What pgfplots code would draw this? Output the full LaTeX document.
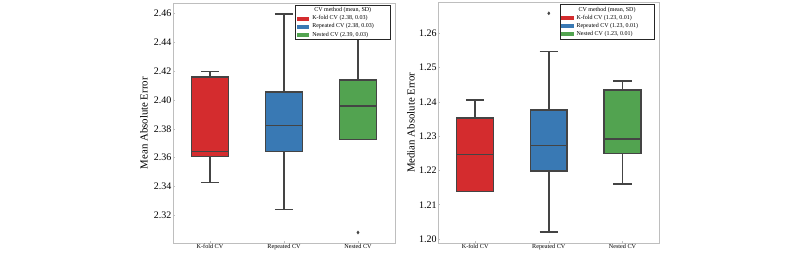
\documentclass[border=0pt]{standalone}
\usepackage{pgfplots}
\pgfplotsset{compat=1.18}
\usepackage{fontspec}
\setmainfont{Liberation Serif}
\definecolor{kred}{RGB}{212,44,46}
\definecolor{kblue}{RGB}{57,121,180}
\definecolor{kgreen}{RGB}{82,163,80}
\definecolor{boxgray}{RGB}{68,68,68}
\definecolor{framegray}{RGB}{190,190,190}
\pgfplotsset{
  mybox/.style={
    scale only axis, anchor=south west,
    xmin=-0.5, xmax=2.5,
    xtick={0,1,2},
    xticklabels={K-fold CV, Repeated CV, Nested CV},
    x tick label style={font=\fontsize{6.2}{7}\selectfont, inner sep=1pt},
    y tick label style={font=\fontsize{10}{11}\selectfont, inner sep=1.5pt},
    /pgf/number format/assume math mode=true,
    yticklabel style={/pgf/number format/fixed, /pgf/number format/fixed zerofill, /pgf/number format/precision=2},
    tick pos=left,
    major tick length=2pt,
    tick style={framegray, line width=0.6pt},
    axis line style={framegray, line width=0.8pt},
    label style={font=\fontsize{10.8}{12}\selectfont},
    legend cell align=left,
    legend style={at={(1,1)}, anchor=north east, xshift=-4.3pt, yshift=-2pt,
      font=\fontsize{6}{7}\selectfont, draw=black!85, line width=0.9pt,
      inner xsep=1pt, inner ysep=1.2pt, row sep=0.4pt,
      nodes={inner sep=1pt}},
    legend image code/.code={\fill[#1, draw=none] (0pt,-2pt) rectangle (12.5pt,2pt); \path[draw=none] (14.5pt,0pt);},
  },
  ln/.style={draw=boxgray, line width=1.5pt, forget plot, mark=none},
  bx/.style={draw=boxgray, line width=1.5pt, forget plot, mark=none, fill=#1},
  fl/.style={forget plot, only marks, mark=diamond*, mark size=1.6pt,
    mark options={fill=boxgray, draw=boxgray, line width=0.3pt}},
}
\begin{document}
\begin{tikzpicture}
\useasboundingbox (0,0) rectangle (800pt,254pt);
% ---------- Left: Mean Absolute Error
\begin{axis}[mybox, at={(173pt,10.7pt)}, width=222pt, height=240.3pt,
  ymin=2.3006, ymax=2.4674,
  ytick={2.32,2.34,2.36,2.38,2.40,2.42,2.44,2.46},
  ylabel={Mean Absolute Error},
  ylabel style={at={(axis description cs:-0.131,0.5)}, anchor=center},
]
\addlegendimage{legend image code/.code={\path[draw=none] (0pt,0pt) rectangle (14.5pt,0pt);}}
\addlegendentry{\makebox[76pt][l]{\hspace{2pt}CV method (mean, SD)}}
\addlegendimage{fill=kred}
\addlegendentry{K-fold CV (2.38, 0.03)}
\addlegendimage{fill=kblue}
\addlegendentry{Repeated CV (2.38, 0.03)}
\addlegendimage{fill=kgreen}
\addlegendentry{Nested CV (2.39, 0.03)}
% K-fold CV: lw 2.3429, q1 2.3610, med 2.3644, q3 2.4162, uw 2.4197
\addplot[ln] coordinates {(0,2.3610) (0,2.3429)};
\addplot[ln] coordinates {(-0.125,2.3429) (0.125,2.3429)};
\addplot[ln] coordinates {(0,2.4162) (0,2.4197)};
\addplot[ln] coordinates {(-0.125,2.4197) (0.125,2.4197)};
\addplot[bx=kred] coordinates {(-0.25,2.3610) (0.25,2.3610) (0.25,2.4162) (-0.25,2.4162)} -- cycle;
\addplot[ln] coordinates {(-0.25,2.3644) (0.25,2.3644)};
% Repeated CV: lw 2.3242, q1 2.3644, med 2.3822, q3 2.4056, uw 2.4597
\addplot[ln] coordinates {(1,2.3644) (1,2.3242)};
\addplot[ln] coordinates {(0.875,2.3242) (1.125,2.3242)};
\addplot[ln] coordinates {(1,2.4056) (1,2.4597)};
\addplot[ln] coordinates {(0.875,2.4597) (1.125,2.4597)};
\addplot[bx=kblue] coordinates {(0.75,2.3644) (1.25,2.3644) (1.25,2.4056) (0.75,2.4056)} -- cycle;
\addplot[ln] coordinates {(0.75,2.3822) (1.25,2.3822)};
% Nested CV: lw 2.3726, q1 2.3726, med 2.3958, q3 2.4138, uw 2.4520, outlier 2.3081
\addplot[ln] coordinates {(2,2.4138) (2,2.4520)};
\addplot[ln] coordinates {(1.875,2.4520) (2.125,2.4520)};
\addplot[bx=kgreen] coordinates {(1.75,2.3726) (2.25,2.3726) (2.25,2.4138) (1.75,2.4138)} -- cycle;
\addplot[ln] coordinates {(1.75,2.3958) (2.25,2.3958)};
\addplot[fl] coordinates {(2,2.3081)};
\end{axis}
% ---------- Right: Median Absolute Error
\begin{axis}[mybox, at={(438.3pt,10.8pt)}, width=221pt, height=240.9pt,
  ymin=1.1988, ymax=1.2690,
  ytick={1.20,1.21,1.22,1.23,1.24,1.25,1.26},
  ylabel={Median Absolute Error},
  ylabel style={at={(axis description cs:-0.124,0.5)}, anchor=center},
]
\addlegendimage{legend image code/.code={\path[draw=none] (0pt,0pt) rectangle (14.5pt,0pt);}}
\addlegendentry{\makebox[76pt][l]{\hspace{2pt}CV method (mean, SD)}}
\addlegendimage{fill=kred}
\addlegendentry{K-fold CV (1.23, 0.01)}
\addlegendimage{fill=kblue}
\addlegendentry{Repeated CV (1.23, 0.01)}
\addlegendimage{fill=kgreen}
\addlegendentry{Nested CV (1.23, 0.01)}
% K-fold CV: lw 1.2138, q1 1.2138, med 1.2246, q3 1.2353, uw 1.2406
\addplot[ln] coordinates {(0,1.2353) (0,1.2406)};
\addplot[ln] coordinates {(-0.125,1.2406) (0.125,1.2406)};
\addplot[bx=kred] coordinates {(-0.25,1.2138) (0.25,1.2138) (0.25,1.2353) (-0.25,1.2353)} -- cycle;
\addplot[ln] coordinates {(-0.25,1.2246) (0.25,1.2246)};
% Repeated CV: lw 1.2020, q1 1.2199, med 1.2272, q3 1.2376, uw 1.2546, outlier 1.2658
\addplot[ln] coordinates {(1,1.2199) (1,1.2020)};
\addplot[ln] coordinates {(0.875,1.2020) (1.125,1.2020)};
\addplot[ln] coordinates {(1,1.2376) (1,1.2546)};
\addplot[ln] coordinates {(0.875,1.2546) (1.125,1.2546)};
\addplot[bx=kblue] coordinates {(0.75,1.2199) (1.25,1.2199) (1.25,1.2376) (0.75,1.2376)} -- cycle;
\addplot[ln] coordinates {(0.75,1.2272) (1.25,1.2272)};
\addplot[fl] coordinates {(1,1.2658)};
% Nested CV: lw 1.2160, q1 1.2250, med 1.2291, q3 1.2435, uw 1.2460
\addplot[ln] coordinates {(2,1.2250) (2,1.2160)};
\addplot[ln] coordinates {(1.875,1.2160) (2.125,1.2160)};
\addplot[ln] coordinates {(2,1.2435) (2,1.2460)};
\addplot[ln] coordinates {(1.875,1.2460) (2.125,1.2460)};
\addplot[bx=kgreen] coordinates {(1.75,1.2250) (2.25,1.2250) (2.25,1.2435) (1.75,1.2435)} -- cycle;
\addplot[ln] coordinates {(1.75,1.2291) (2.25,1.2291)};
\end{axis}
\end{tikzpicture}
\end{document}
